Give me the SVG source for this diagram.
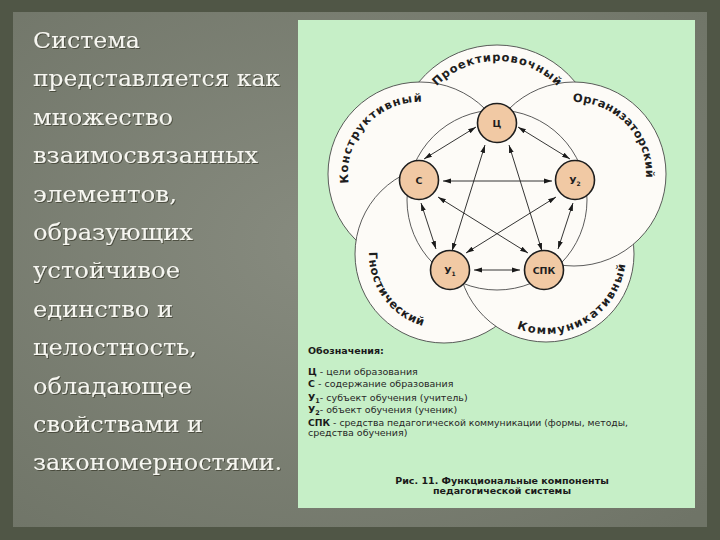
<svg xmlns="http://www.w3.org/2000/svg" width="720" height="540" viewBox="0 0 720 540">
<defs>
<radialGradient id="slide" cx="45%" cy="45%" r="75%">
<stop offset="0" stop-color="#878b7f"/>
<stop offset="1" stop-color="#6f7467"/>
</radialGradient>
<marker id="ah" viewBox="0 0 8 6" refX="8" refY="3" markerWidth="8" markerHeight="6" markerUnits="userSpaceOnUse" orient="auto-start-reverse">
<path d="M0,0.6 L8,3 L0,5.4 z" fill="#1a1a1a"/>
</marker>
<filter id="sh" x="-5%" y="-20%" width="110%" height="140%">
<feDropShadow dx="1" dy="1" stdDeviation="0.6" flood-color="#2a2d24" flood-opacity="0.6"/>
</filter>
<path id="tp1" d="M431.9,91.4 A85,85 0 0,1 562.1,91.4"/>
<path id="tp2" d="M349.8,190.2 A72,72 0 0,1 428.8,102.5"/>
<path id="tp3" d="M561.5,103.1 A72,72 0 0,1 644.4,189.0"/>
<path id="tp4" d="M373.5,228.4 A75,75 0 0,0 446.6,329.0"/>
<path id="tp5" d="M506,323.3 A80,80 0 0,0 626,252.6"/>
</defs>
<style>
.left{font-family:"DejaVu Serif","Liberation Serif",serif;font-size:22.5px;fill:#f6f6f0}
.big{fill:#fdfbf7;stroke:#4a4a4a;stroke-width:0.9}
.clab{font-family:"DejaVu Sans","Liberation Sans",sans-serif;font-size:11.5px;font-weight:bold;fill:#1e1e1e}
.node circle{fill:#f1c9a4;stroke:#1e1e1e;stroke-width:1.6}
.node text{font-family:"DejaVu Sans","Liberation Sans",sans-serif;font-size:9.5px;font-weight:bold;fill:#1e1e1e;text-anchor:middle}
.arr{stroke:#1e1e1e;stroke-width:0.9;fill:none;marker-start:url(#ah);marker-end:url(#ah)}
.leg{font-family:"DejaVu Sans","Liberation Sans",sans-serif;font-size:9.5px;fill:#262626}
.b{font-weight:bold;fill:#1a1a1a}
.cap{font-family:"DejaVu Sans","Liberation Sans",sans-serif;font-size:9.5px;font-weight:bold;fill:#1a1a1a;text-anchor:middle}
</style>
<rect width="720" height="540" fill="#505646"/>
<rect x="13" y="12" width="694" height="515" fill="url(#slide)"/>
<g id="slide-text" class="left" filter="url(#sh)">
<text x="33" y="48" textLength="107" lengthAdjust="spacingAndGlyphs">Система</text>
<text x="33" y="86.4" textLength="247" lengthAdjust="spacingAndGlyphs">представляется как</text>
<text x="33" y="124.8" textLength="140" lengthAdjust="spacingAndGlyphs">множество</text>
<text x="33" y="163.2" textLength="225" lengthAdjust="spacingAndGlyphs">взаимосвязанных</text>
<text x="33" y="201.6" textLength="144" lengthAdjust="spacingAndGlyphs">элементов,</text>
<text x="33" y="240" textLength="160" lengthAdjust="spacingAndGlyphs">образующих</text>
<text x="33" y="278.4" textLength="147" lengthAdjust="spacingAndGlyphs">устойчивое</text>
<text x="33" y="316.8" textLength="140" lengthAdjust="spacingAndGlyphs">единство и</text>
<text x="33" y="355.2" textLength="164" lengthAdjust="spacingAndGlyphs">целостность,</text>
<text x="33" y="393.6" textLength="159" lengthAdjust="spacingAndGlyphs">обладающее</text>
<text x="33" y="432" textLength="170" lengthAdjust="spacingAndGlyphs">свойствами и</text>
<text x="33" y="470.4" textLength="249" lengthAdjust="spacingAndGlyphs">закономерностями.</text>
</g>
<rect id="figure-panel" x="298" y="20" width="397" height="488" fill="#c6efc7"/>
<g id="comp-proekt"><circle class="big" cx="497" cy="146" r="101"/></g>
<g id="comp-konstr"><circle class="big" cx="420" cy="174" r="92"/></g>
<g id="comp-gnost"><circle class="big" cx="444" cy="254" r="89"/></g>
<g id="comp-kommun"><circle class="big" cx="546" cy="254" r="88"/></g>
<g id="comp-organ"><circle class="big" cx="574" cy="174" r="92"/></g>
<g id="inner-ring"><circle class="big" cx="497" cy="200" r="90"/></g>
<g id="comp-labels" class="clab">
<text><textPath href="#tp1" startOffset="50%" text-anchor="middle" textLength="134" lengthAdjust="spacing">Проектировочный</textPath></text>
<text><textPath href="#tp2" startOffset="50%" text-anchor="middle" textLength="124" lengthAdjust="spacing">Конструктивный</textPath></text>
<text><textPath href="#tp3" startOffset="50%" text-anchor="middle" textLength="118" lengthAdjust="spacing">Организаторский</textPath></text>
<text><textPath href="#tp4" startOffset="50%" text-anchor="middle" textLength="98" lengthAdjust="spacing">Гностический</textPath></text>
<text><textPath href="#tp5" startOffset="50%" text-anchor="middle" textLength="145" lengthAdjust="spacing">Коммуникативный</textPath></text>
</g>
<g id="connectors">
<line class="arr" x1="476" y1="127" x2="424" y2="159"/>
<line class="arr" x1="518" y1="127" x2="570" y2="159"/>
<line class="arr" x1="421" y1="203" x2="436" y2="249"/>
<line class="arr" x1="573" y1="203" x2="558" y2="249"/>
<line class="arr" x1="474" y1="270" x2="520" y2="270"/>
<line class="arr" x1="443" y1="181" x2="552" y2="181"/>
<line class="arr" x1="485" y1="145" x2="452" y2="251"/>
<line class="arr" x1="509" y1="145" x2="542" y2="251"/>
<line class="arr" x1="438" y1="197" x2="528" y2="253"/>
<line class="arr" x1="556" y1="197" x2="466" y2="253"/>
</g>
<g id="node-c" class="node"><circle cx="497" cy="123" r="19.5"/><text x="497" y="127">Ц</text></g>
<g id="node-s" class="node"><circle cx="419" cy="180" r="19.5"/><text x="419" y="184">С</text></g>
<g id="node-u2" class="node"><circle cx="575" cy="180" r="19.5"/><text x="575" y="184">У<tspan font-size="6" dy="2">2</tspan></text></g>
<g id="node-u1" class="node"><circle cx="450" cy="270" r="19.5"/><text x="450" y="274">У<tspan font-size="6" dy="2">1</tspan></text></g>
<g id="node-spk" class="node"><circle cx="544" cy="270" r="19.5"/><text x="544" y="274">СПК</text></g>
<g id="legend" class="leg">
<text x="308" y="354" class="b">Обозначения:</text>
<text x="308" y="375"><tspan class="b">Ц</tspan> - цели образования</text>
<text x="308" y="387"><tspan class="b">С</tspan> - содержание образования</text>
<text x="308" y="401"><tspan class="b">У</tspan><tspan class="b" font-size="6.5" dy="2">1</tspan><tspan dy="-2">- субъект обучения (учитель)</tspan></text>
<text x="308" y="413"><tspan class="b">У</tspan><tspan class="b" font-size="6.5" dy="2">2</tspan><tspan dy="-2">- объект обучения (ученик)</tspan></text>
<text x="308" y="425.5" textLength="320" lengthAdjust="spacingAndGlyphs"><tspan class="b">СПК</tspan> - средства педагогической коммуникации (формы, методы,</text>
<text x="308" y="435.5">средства обучения)</text>
</g>
<g id="caption" class="cap">
<text x="502" y="484">Рис. 11. Функциональные компоненты</text>
<text x="502" y="494">педагогической системы</text>
</g>
</svg>
